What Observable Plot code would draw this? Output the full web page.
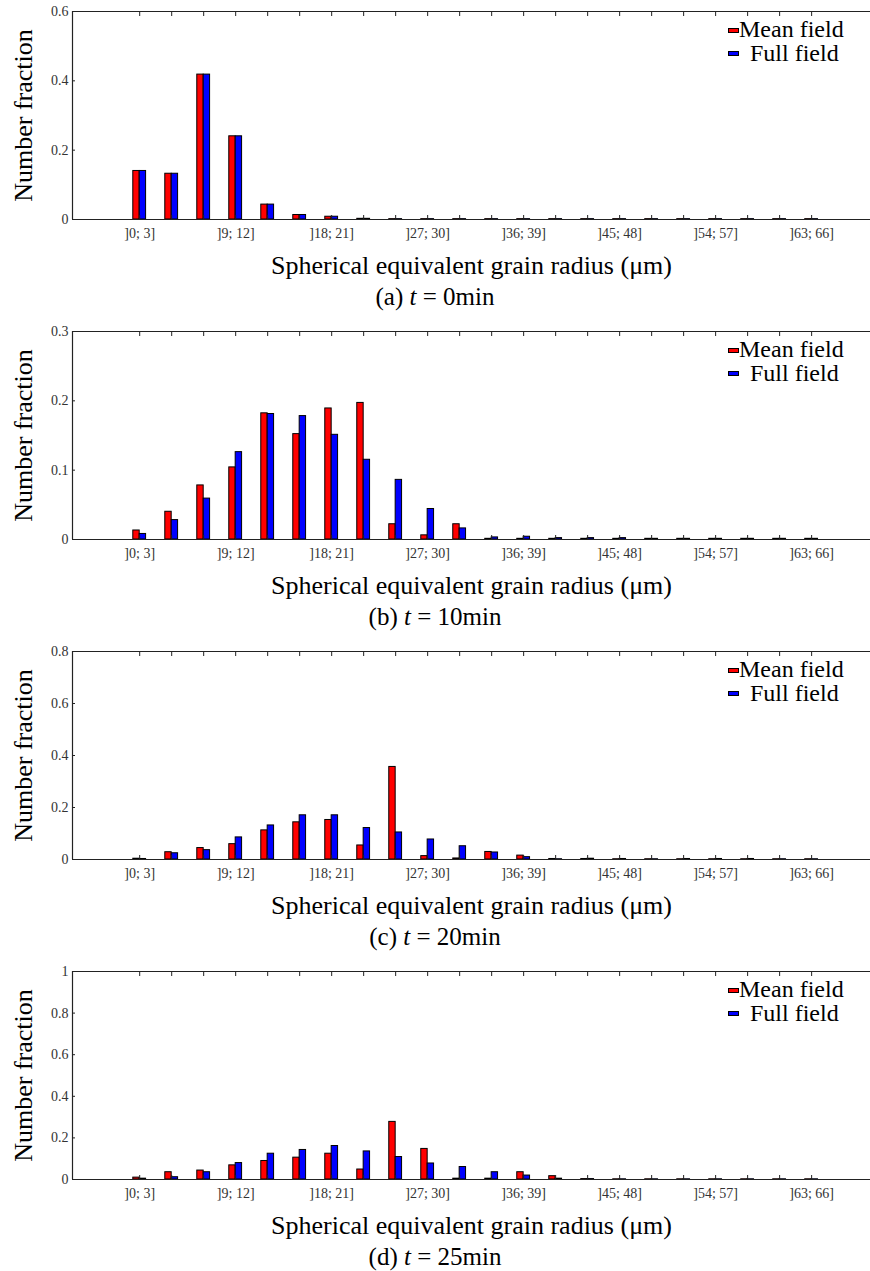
<!DOCTYPE html>
<html><head><meta charset="utf-8">
<script src="https://cdn.jsdelivr.net/npm/d3@7"></script>
<script src="https://cdn.jsdelivr.net/npm/@observablehq/plot@0.6"></script>
<style>
body{margin:0;background:#fff;font-family:"Liberation Serif",serif;color:#000;}
.panel{position:relative;width:870px;height:320px;overflow:hidden;}
.panel svg{position:absolute;left:0;top:0;}
.caption{position:absolute;left:0;width:870px;text-align:center;font-size:25px;line-height:25px;top:284px;}
.leg{position:absolute;font-size:24px;line-height:24px;white-space:nowrap;}
.sw{position:absolute;width:9px;height:3px;border:1px solid #000;}
</style></head><body><div id="root"></div>
<script>
const categories = ["]0; 3]","]3; 6]","]6; 9]","]9; 12]","]12; 15]","]15; 18]","]18; 21]","]21; 24]","]24; 27]","]27; 30]","]30; 33]","]33; 36]","]36; 39]","]39; 42]","]42; 45]","]45; 48]","]48; 51]","]51; 54]","]54; 57]","]57; 60]","]60; 63]","]63; 66]"];
const labeledTicks = ["]0; 3]","]9; 12]","]18; 21]","]27; 30]","]36; 39]","]45; 48]","]54; 57]","]63; 66]"];
const seriesNames = ["Mean field","Full field"];
const seriesColors = ["#ff0000","#0000ff"];

const meanA = [0.140,0.132,0.418,0.240,0.043,0.013,0.008,0.002,0.001,0.001,0.001,0.001,0.001,0.001,0.001,0.001,0.001,0.001,0.001,0.001,0.001,0.001];
const fullA = [0.140,0.132,0.418,0.240,0.043,0.013,0.008,0.002,0.001,0.001,0.001,0.001,0.001,0.001,0.001,0.001,0.001,0.001,0.001,0.001,0.001,0.001];
const meanB = [0.013,0.040,0.078,0.104,0.182,0.152,0.189,0.197,0.022,0.006,0.022,0.001,0.001,0.001,0.001,0.001,0.001,0.001,0.001,0.001,0.001,0.001];
const fullB = [0.008,0.028,0.059,0.126,0.181,0.178,0.151,0.115,0.086,0.044,0.016,0.003,0.004,0.002,0.002,0.002,0.001,0.001,0.001,0.001,0.001,0.001];
const meanC = [0.003,0.028,0.044,0.059,0.112,0.143,0.152,0.054,0.356,0.013,0.004,0.029,0.015,0.002,0.002,0.001,0.001,0.001,0.001,0.001,0.001,0.001];
const fullC = [0.002,0.024,0.036,0.085,0.131,0.170,0.170,0.121,0.104,0.077,0.051,0.027,0.009,0.001,0.003,0.002,0.001,0.002,0.002,0.002,0.001,0.001];
const meanD = [0.009,0.035,0.043,0.068,0.089,0.105,0.124,0.048,0.277,0.147,0.004,0.004,0.035,0.016,0.002,0.001,0.001,0.001,0.001,0.001,0.001,0.001];
const fullD = [0.004,0.011,0.035,0.079,0.124,0.142,0.161,0.135,0.108,0.077,0.060,0.035,0.019,0.004,0.002,0.001,0.001,0.001,0.001,0.001,0.001,0.001];

const yTicksA = [0,0.2,0.4,0.6];
const yTicksB = [0,0.1,0.2,0.3];
const yTicksC = [0,0.2,0.4,0.6,0.8];
const yTicksD = [0,0.2,0.4,0.6,0.8,1];

const captionLetters = ["a","b","c","d"];
const captionTimes = ["0min","10min","20min","25min"];
const xLabel = "Spherical equivalent grain radius (μm)";
const yLabel = "Number fraction";

const xMin = -2.1, xMax = 22.84;
const barW = 0.2;
const axisColor = "#222";

function makePanel(mean, full, yTicks, k) {
  const yMax = yTicks[yTicks.length - 1];
  const rows = categories.map((c, i) => ({i, c, mean: mean[i], full: full[i]}));
  const allIdx = categories.map((c, i) => i);
  const labIdx = labeledTicks.map(t => categories.indexOf(t));
  const svg = Plot.plot({
    width: 870, height: 285,
    marginLeft: 72, marginRight: 0, marginTop: 11, marginBottom: 66,
    style: {fontFamily: "'Liberation Serif', serif", background: "transparent", color: "#000"},
    x: {type: "linear", domain: [xMin, xMax]},
    y: {domain: [0, yMax]},
    marks: [
      Plot.rectY(rows, {x1: d => d.i - barW, x2: d => d.i, y1: 0, y2: "mean", fill: seriesColors[0], stroke: "#000", strokeWidth: 1}),
      Plot.rectY(rows, {x1: d => d.i, x2: d => d.i + barW, y1: 0, y2: "full", fill: seriesColors[1], stroke: "#000", strokeWidth: 1}),
      Plot.ruleY([0], {stroke: axisColor, strokeWidth: 1.2}),
      Plot.ruleY([yMax], {stroke: axisColor, strokeWidth: 1.2}),
      Plot.ruleX([xMin], {stroke: axisColor, strokeWidth: 1.2}),
      Plot.axisX(allIdx, {anchor: "bottom", tickSize: -4, tickFormat: () => "", label: null, stroke: axisColor}),
      Plot.axisX(allIdx, {anchor: "top", tickSize: -4, tickFormat: () => "", label: null, stroke: axisColor}),
      Plot.axisX(labIdx, {anchor: "bottom", tickSize: 0, tickPadding: 9, tickFormat: i => categories[i], fontSize: 14, label: null, fill: "#333"}),
      Plot.axisY(yTicks, {anchor: "left", tickSize: -3, tickFormat: () => "", label: null, stroke: axisColor}),
      Plot.axisY(yTicks, {anchor: "left", tickSize: 0, tickPadding: 4, tickFormat: d => String(d), fontSize: 14, label: null, fill: "#333"}),
      Plot.text([xLabel], {frameAnchor: "bottom", dy: 54, lineAnchor: "bottom", textAnchor: "middle", fontSize: 26, fill: "#000"}),
      Plot.text([yLabel], {frameAnchor: "left", dx: -49, rotate: -90, textAnchor: "middle", lineAnchor: "middle", fontSize: 26, fill: "#000"})
    ]
  });
  const div = document.createElement("div");
  div.className = "panel";
  div.appendChild(svg);
  const cap = document.createElement("div");
  cap.className = "caption";
  cap.innerHTML = `(${captionLetters[k]}) <i>t</i> = ${captionTimes[k]}`;
  div.appendChild(cap);
  // legend
  const legPos = [{sx: 728, sy: 28, tx: 739, ty: 16.5}, {sx: 728, sy: 51, tx: 750, ty: 40.5}];
  seriesNames.forEach((name, j) => {
    const sw = document.createElement("div");
    sw.className = "sw";
    sw.style.left = legPos[j].sx + "px";
    sw.style.top = legPos[j].sy + "px";
    sw.style.background = seriesColors[j];
    div.appendChild(sw);
    const t = document.createElement("div");
    t.className = "leg";
    t.style.left = legPos[j].tx + "px";
    t.style.top = legPos[j].ty + "px";
    t.textContent = name;
    div.appendChild(t);
  });
  return div;
}

const root = document.getElementById("root");
root.appendChild(makePanel(meanA, fullA, yTicksA, 0));
root.appendChild(makePanel(meanB, fullB, yTicksB, 1));
root.appendChild(makePanel(meanC, fullC, yTicksC, 2));
root.appendChild(makePanel(meanD, fullD, yTicksD, 3));
</script>
</body></html>
